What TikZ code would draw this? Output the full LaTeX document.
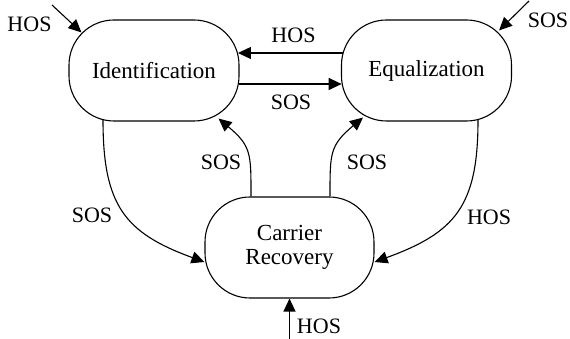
\documentclass[tikz,border=0pt]{standalone}
\usepackage{fontspec}
\setmainfont{Liberation Serif}
\usetikzlibrary{arrows.meta,calc}
\begin{document}
\begin{tikzpicture}[x=1pt,y=1pt,
  state/.style={draw, line width=1.1pt, rounded corners=45pt, minimum width=170pt,
    minimum height=101pt, inner sep=0pt, align=center, font=\fontsize{23}{24}\selectfont},
  lbl/.style={font=\fontsize{22}{22}\selectfont, inner sep=0pt},
  conn/.style={line width=1.1pt, -{Triangle[length=13pt,width=12pt]}}]
\useasboundingbox (0,0) rectangle (570,339);
\node[state] (ident) at (154,268.5) {Identification};
\node[state] (equal) at (426.5,268.5) {Equalization};
\node[state, minimum width=169pt] (carrier) at (289.5,91.5) {Carrier\\Recovery};

\coordinate (hosA) at (52,334);
\coordinate (sosA) at (529,338);
\coordinate (hosB) at (289.5,0);

\draw[conn] (hosA) -- ($(ident.north west)+(13pt,-13pt)$);
\draw[conn] (sosA) -- ($(equal.north east)+(-13pt,-11pt)$);
\draw[conn] ($(equal.west)+(1.6pt,17.5pt)$) -- ($(ident.east)+(-1.6pt,17.5pt)$);
\draw[conn] ($(ident.east)+(-0.7pt,-13.5pt)$) -- ($(equal.west)+(0.7pt,-13.5pt)$);
\draw[conn] ([xshift=-51pt,yshift=1.4pt]ident.south) to[out=-90,in=160,looseness=1.25] ([yshift=-14.5pt]carrier.west);
\draw[conn] ([xshift=51.5pt,yshift=1.4pt]equal.south) to[out=-90,in=20,looseness=1.25] ([yshift=-14.5pt]carrier.east);
\draw[conn] ([xshift=-38.5pt]carrier.north) to[out=90,in=-40,looseness=1.3] ($(ident.south east)+(-21pt,3pt)$);
\draw[conn] ([xshift=40.5pt]carrier.north) to[out=90,in=-140,looseness=1.3] ($(equal.south west)+(22pt,4pt)$);
\draw[conn] (hosB) -- (carrier.south);

\node[lbl] (l1) at (29.5,315) {HOS};
\node[lbl] (l2) at (293.5,303.5) {HOS};
\node[lbl] (l3) at (291,237) {SOS};
\node[lbl] (l4) at (548,319) {SOS};
\node[lbl] (l5) at (92,124) {SOS};
\node[lbl] (l6) at (221,177) {SOS};
\node[lbl] (l7) at (367,177) {SOS};
\node[lbl] (l8) at (489,121.5) {HOS};
\node[lbl] (l9) at (319,13) {HOS};
\end{tikzpicture}
\end{document}
